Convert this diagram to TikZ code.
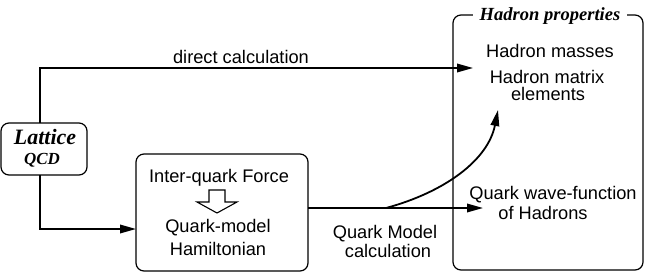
\documentclass[tikz,border=0pt]{standalone}
\usepackage{fontspec}
\setmainfont{Liberation Sans}
\newfontfamily\tnr{Liberation Serif}
\usetikzlibrary{arrows.meta}
\tikzset{
  txt/.style={font=\fontsize{18.3}{22}\selectfont, inner sep=0pt, anchor=base},
  arr/.style={-{Triangle[length=16bp,width=8.5bp]}, line width=1.8bp},
  rbox/.style={draw, line width=1.2bp, rounded corners=8bp, inner sep=0pt},
}
\begin{document}
\begin{tikzpicture}[x=1bp,y=-1bp]
\useasboundingbox (0,0) rectangle (645,272);
% boxes
\node[rbox, minimum width=86bp, minimum height=52bp] (lat) at (44,149) {};
\node[rbox, minimum width=172bp, minimum height=117bp] (qm) at (222,212.5) {};
\node[rbox, minimum width=190bp, minimum height=255bp] (hp) at (548,142.5) {};
\node[fill=white, inner xsep=7bp, inner ysep=2bp, anchor=base] (hptitle) at (550,20) {\tnr\bfseries\itshape\fontsize{18.6}{22}\selectfont Hadron properties};
% Lattice QCD text
\node[inner sep=0pt, anchor=base] (lattice) at (45,144) {\tnr\bfseries\itshape\fontsize{22}{24}\selectfont Lattice};
\node[inner sep=0pt, anchor=base] (qcd) at (42,164) {\tnr\bfseries\itshape\fontsize{17}{20}\selectfont QCD};
% texts
\node[txt] (direct) at (241,63) {direct calculation};
\node[txt] (hmass) at (550,57) {Hadron masses};
\node[txt] (hmat) at (547,83) {Hadron matrix};
\node[txt] (helem) at (548,100) {elements};
\node[txt] (qwf) at (553,199) {Quark wave-function};
\node[txt] (ofh) at (543,219) {of Hadrons};
\node[txt] (qmc1) at (385,238) {Quark Model};
\node[txt] (qmc2) at (388,257) {calculation};
\node[txt] (iqf) at (219,182) {Inter-quark Force};
\node[txt] (qmod) at (218,232) {Quark-model};
\node[txt] (ham) at (218,255) {Hamiltonian};
% hollow arrow
\draw[line width=1.1bp, fill=white] (209,190) -- (225,190) -- (225,202) -- (237,202) -- (217,213) -- (197,202) -- (209,202) -- cycle;
% connectors
\coordinate (lattop) at (40,123);
\coordinate (latbot) at (40,175);
\coordinate (e1) at (473,68);
\coordinate (e2) at (136,229);
\coordinate (s3) at (308,208);
\coordinate (e3) at (483,208);
\coordinate (c0) at (386,208);
\coordinate (e4) at (498,110);
\draw[arr] (lattop) |- (e1);
\draw[arr] (latbot) |- (e2);
\draw[arr] (s3) -- (e3);
\draw[arr] (c0) .. controls (445,192) and (488,160) .. (e4);
\end{tikzpicture}
\end{document}
